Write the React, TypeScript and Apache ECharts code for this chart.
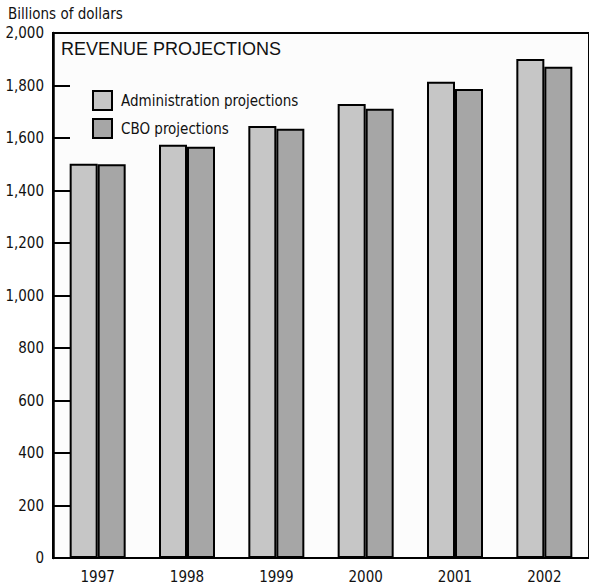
import React, { useEffect, useRef } from "react";
import * as echarts from "echarts";

const years = ["1997", "1998", "1999", "2000", "2001", "2002"];
const adminValues = [1502, 1574, 1646, 1730, 1814, 1901];
const cboValues = [1500, 1567, 1635, 1711, 1787, 1871];
const seriesNames = ["Administration projections", "CBO projections"];
const chartTitle = "REVENUE PROJECTIONS";
const unitLabel = "Billions of dollars";

const condensed = "'Liberation Sans Narrow', 'DejaVu Sans Condensed', 'Roboto Condensed', sans-serif";

export default function App() {
  const ref = useRef<HTMLDivElement>(null);
  useEffect(() => {
    if (!ref.current) return;
    const chart = echarts.init(ref.current, null, { renderer: "svg" });
    chart.setOption({
      animation: false,
      backgroundColor: "#ffffff",
      title: {
        text: chartTitle,
        left: 61,
        top: 40,
        padding: 0,
        textStyle: { fontFamily: "'Liberation Sans', Arial, sans-serif", fontSize: 18, fontWeight: "normal", color: "#111" },
      },
      graphic: [
        {
          type: "text",
          left: 8,
          top: 6,
          style: { text: unitLabel, fontFamily: condensed, fontSize: 15, fill: "#111" },
        },
      ],
      legend: {
        orient: "vertical",
        left: 92,
        top: 90,
        padding: 0,
        icon: "rect",
        itemWidth: 19,
        itemHeight: 19,
        itemGap: 7,
        textStyle: { fontFamily: condensed, fontSize: 15, color: "#111", padding: [0, 0, 0, 4] },
        data: seriesNames,
      },
      grid: { left: 53, top: 33, width: 540, height: 525, show: true, borderColor: "#000", borderWidth: 2, backgroundColor: "#fcfcfc" },
      xAxis: {
        type: "category",
        data: years,
        axisTick: { show: false },
        axisLine: { lineStyle: { color: "#000", width: 2 } },
        axisLabel: { fontFamily: condensed, fontSize: 15, color: "#111", margin: 11 },
      },
      yAxis: {
        type: "value",
        min: 0,
        max: 2000,
        interval: 200,
        splitLine: { show: false },
        axisLine: { show: true, lineStyle: { color: "#000", width: 2.5 } },
        axisTick: { show: true, inside: true, length: 17, lineStyle: { color: "#000", width: 2 } },
        axisLabel: {
          fontFamily: condensed,
          fontSize: 15,
          color: "#111",
          margin: 9,
          formatter: (v: number) => v.toLocaleString("en-US"),
        },
      },
      series: [
        {
          name: seriesNames[0],
          type: "bar",
          data: adminValues,
          barWidth: 28,
          barGap: "0%",
          itemStyle: { color: "#c6c6c6", borderColor: "#000", borderWidth: 2 },
        },
        {
          name: seriesNames[1],
          type: "bar",
          data: cboValues,
          barWidth: 28,
          itemStyle: { color: "#a6a6a6", borderColor: "#000", borderWidth: 2 },
        },
      ],
    });
    return () => chart.dispose();
  }, []);
  return <div ref={ref} style={{ width: 589, height: 586, position: "absolute", left: 0, top: 0 }} />;
}
